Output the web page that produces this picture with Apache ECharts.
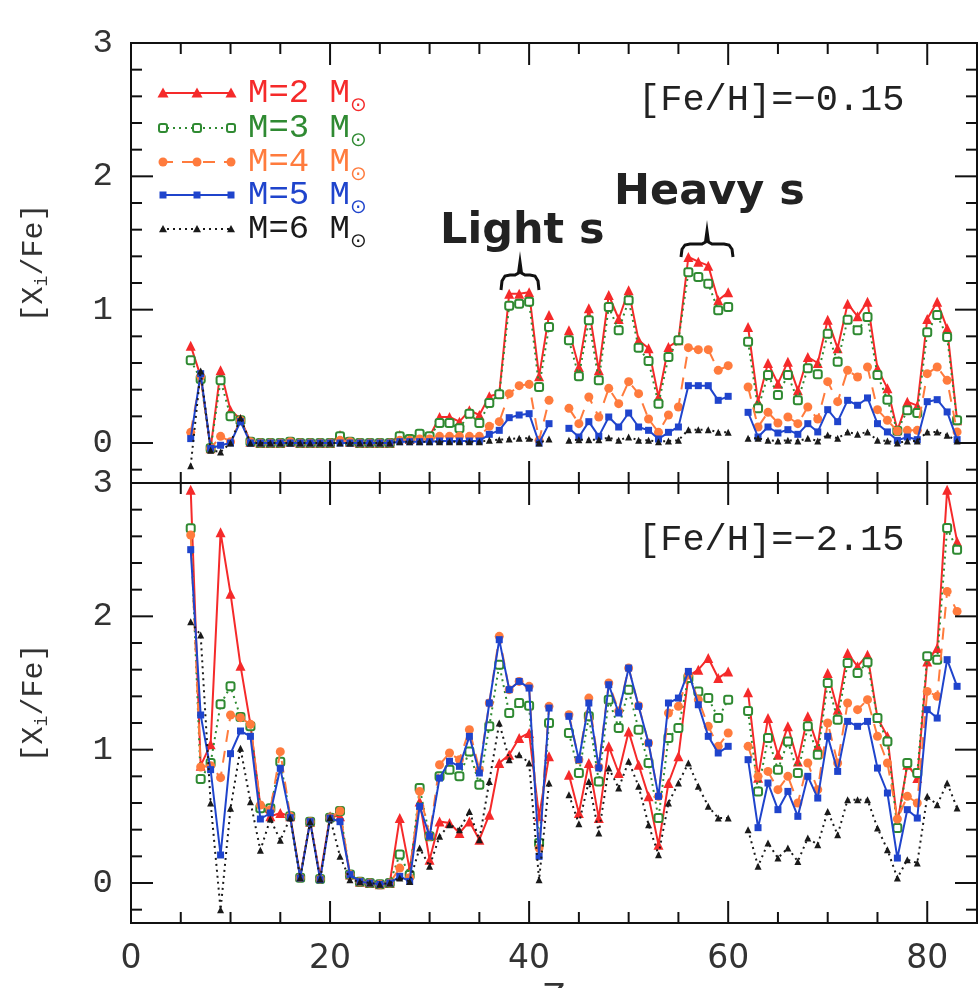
<!DOCTYPE html>
<html>
<head>
<meta charset="utf-8">
<script src="https://cdn.jsdelivr.net/npm/echarts@6/dist/echarts.min.js"></script>
<style>
  html, body { margin: 0; padding: 0; background: #fff; }
  #chart { width: 979px; height: 988px; }
</style>
</head>
<body>
<div id="chart"></div>
<script>
// atomic number Z (43 and 61 have no value)
const Z = [6, 7, 8, 9, 10, 11, 12, 13, 14, 15, 16, 17, 18, 19, 20, 21, 22, 23, 24, 25,
  26, 27, 28, 29, 30, 31, 32, 33, 34, 35, 36, 37, 38, 39, 40, 41, 42, 43, 44, 45,
  46, 47, 48, 49, 50, 51, 52, 53, 54, 55, 56, 57, 58, 59, 60, 61, 62, 63, 64, 65,
  66, 67, 68, 69, 70, 71, 72, 73, 74, 75, 76, 77, 78, 79, 80, 81, 82, 83];

// [Fe/H] = -0.15
const topM2 = [0.73, 0.50, -0.04, 0.545, 0.245, 0.18, 0.01, 0.0, 0.0, 0.0,
  0.01, 0.0, 0.0, 0.0, 0.0, 0.06, 0.01, 0.0, 0.0, 0.0,
  0.0, 0.06, 0.03, 0.07, 0.05, 0.195, 0.195, 0.16, 0.245, 0.21,
  0.35, 0.37, 1.12, 1.12, 1.13, 0.50, 0.96, null, 0.845, 0.57,
  1.01, 0.545, 1.11, 0.93, 1.145, 0.77, 0.71, 0.345, 0.72, 0.77,
  1.395, 1.36, 1.33, 1.07, 1.13, null, 0.87, 0.31, 0.60, 0.445,
  0.61, 0.395, 0.645, 0.60, 0.925, 0.71, 1.045, 0.95, 1.06, 0.56,
  0.41, 0.095, 0.31, 0.28, 0.93, 1.06, 0.86, 0.17];
const topM3 = [0.62, 0.48, -0.04, 0.47, 0.20, 0.17, 0.01, 0.0, 0.0, 0.0,
  0.01, 0.0, 0.0, 0.0, 0.0, 0.05, 0.01, 0.0, 0.0, 0.0,
  0.0, 0.05, 0.03, 0.07, 0.05, 0.15, 0.15, 0.11, 0.22, 0.15,
  0.30, 0.365, 1.03, 1.045, 1.06, 0.42, 0.87, null, 0.77, 0.50,
  0.92, 0.47, 1.02, 0.845, 1.07, 0.715, 0.615, 0.295, 0.645, 0.77,
  1.28, 1.245, 1.195, 0.995, 1.02, null, 0.76, 0.26, 0.51, 0.36,
  0.51, 0.32, 0.56, 0.515, 0.82, 0.61, 0.925, 0.845, 0.945, 0.51,
  0.325, 0.092, 0.245, 0.225, 0.83, 0.96, 0.795, 0.17];
const topM4 = [0.08, 0.50, -0.04, 0.05, 0.01, 0.17, 0.01, 0.0, 0.0, 0.0,
  0.01, 0.0, 0.0, 0.0, 0.0, 0.02, 0.01, 0.0, 0.0, 0.0,
  0.0, 0.02, 0.02, 0.03, 0.03, 0.05, 0.05, 0.05, 0.05, 0.05,
  0.125, 0.16, 0.37, 0.43, 0.44, 0.02, 0.32, null, 0.26, 0.145,
  0.345, 0.195, 0.41, 0.295, 0.46, 0.37, 0.18, 0.08, 0.21, 0.27,
  0.715, 0.70, 0.70, 0.545, 0.58, null, 0.42, 0.12, 0.23, 0.15,
  0.195, 0.145, 0.27, 0.18, 0.46, 0.31, 0.545, 0.495, 0.57, 0.25,
  0.17, 0.09, 0.095, 0.095, 0.52, 0.57, 0.47, 0.083];
const topM5 = [0.033, 0.52, -0.04, -0.017, 0.0, 0.16, 0.0, 0.0, 0.0, 0.0,
  0.0, 0.0, 0.0, 0.0, 0.0, 0.0, 0.0, 0.0, 0.0, 0.0,
  0.0, 0.01, 0.01, 0.01, 0.01, 0.015, 0.015, 0.015, 0.015, 0.015,
  0.065, 0.095, 0.19, 0.21, 0.22, 0.0, 0.145, null, 0.11, 0.045,
  0.16, 0.05, 0.195, 0.12, 0.225, 0.12, 0.095, 0.03, 0.08, 0.12,
  0.43, 0.43, 0.43, 0.32, 0.35, null, 0.23, 0.045, 0.12, 0.075,
  0.10, 0.065, 0.145, 0.083, 0.25, 0.16, 0.32, 0.283, 0.338, 0.145,
  0.083, 0.02, 0.045, 0.025, 0.31, 0.325, 0.233, 0.025];
const topM6 = [-0.17, 0.54, -0.055, -0.067, 0.0, 0.19, 0.0, 0.0, 0.0, 0.0,
  0.0, 0.0, 0.0, 0.0, 0.0, 0.0, 0.0, 0.0, 0.0, 0.0,
  0.0, 0.01, 0.01, 0.01, 0.01, 0.01, 0.01, 0.01, 0.01, 0.01,
  0.02, 0.025, 0.03, 0.035, 0.035, 0.0, 0.03, null, 0.02, 0.025,
  0.025, 0.025, 0.04, 0.02, 0.045, 0.02, 0.02, 0.01, 0.015, 0.02,
  0.10, 0.10, 0.10, 0.08, 0.08, null, 0.035, 0.035, 0.02, 0.015,
  0.02, 0.015, 0.035, 0.015, 0.06, 0.035, 0.083, 0.065, 0.083, 0.02,
  0.015, 0.0, 0.015, 0.015, 0.083, 0.083, 0.058, 0.015];

// [Fe/H] = -2.15
const botM2 = [2.95, 0.88, 1.04, 2.63, 2.17, 1.63, 1.19, 0.575, 0.50, 0.525,
  0.50, 0.05, 0.46, 0.05, 0.50, 0.50, 0.063, 0.01, 0.0, -0.01,
  0.0, 0.487, 0.10, 0.612, 0.175, 0.462, 0.45, 0.375, 0.462, 0.325,
  0.512, 0.90, 0.962, 1.087, 1.125, 0.50, 0.95, null, 0.812, 0.525,
  0.90, 0.487, 1.025, 0.825, 1.137, 0.887, 0.65, 0.287, 0.75, 0.95,
  1.55, 1.60, 1.687, 1.537, 1.587, null, 1.43, 0.79, 1.237, 0.962,
  1.175, 0.912, 1.25, 1.025, 1.575, 1.30, 1.725, 1.625, 1.712, 1.237,
  1.10, 0.45, 0.887, 0.787, 1.662, 1.762, 2.95, 2.562];
const botM3 = [2.66, 0.78, 0.90, 1.34, 1.475, 1.245, 1.175, 0.56, 0.56, 0.91,
  0.50, 0.04, 0.46, 0.03, 0.49, 0.54, 0.063, 0.01, 0.0, -0.01,
  0.0, 0.213, 0.06, 0.712, 0.35, 0.80, 0.85, 0.80, 0.987, 0.737,
  1.175, 1.637, 1.275, 1.35, 1.33, 0.30, 1.20, null, 1.125, 0.825,
  1.25, 0.762, 1.375, 1.162, 1.45, 1.15, 0.90, 0.487, 1.087, 1.162,
  1.537, 1.437, 1.387, 1.237, 1.375, null, 1.29, 0.687, 1.087, 0.85,
  1.062, 0.825, 1.175, 0.962, 1.50, 1.225, 1.65, 1.575, 1.655, 1.237,
  1.062, 0.412, 0.90, 0.825, 1.70, 1.675, 2.662, 2.50];
const botM4 = [2.61, 0.87, 0.88, 0.79, 1.26, 1.24, 1.19, 0.585, 0.55, 0.985,
  0.50, 0.04, 0.46, 0.03, 0.49, 0.54, 0.063, 0.01, 0.0, -0.01,
  0.0, 0.112, 0.04, 0.687, 0.35, 0.887, 0.975, 0.925, 1.15, 0.85,
  1.35, 1.85, 1.45, 1.512, 1.475, 0.262, 1.325, null, 1.262, 0.925,
  1.387, 0.87, 1.50, 1.29, 1.612, 1.33, 1.05, 0.65, 1.275, 1.325,
  1.56, 1.375, 1.175, 1.025, 1.125, null, 1.025, 0.80, 0.837, 0.70,
  0.80, 0.60, 0.90, 0.70, 1.20, 0.90, 1.35, 1.30, 1.375, 1.10,
  0.90, 0.48, 0.65, 0.60, 1.437, 1.40, 2.187, 2.037];
const botM5 = [2.50, 1.26, 0.85, 0.21, 0.97, 1.14, 1.10, 0.48, 0.525, 0.86,
  0.49, 0.037, 0.46, 0.025, 0.487, 0.46, 0.063, 0.01, 0.0, -0.01,
  0.0, 0.05, 0.012, 0.575, 0.35, 0.787, 0.913, 0.875, 1.10, 0.825,
  1.35, 1.825, 1.45, 1.512, 1.462, 0.20, 1.312, null, 1.25, 0.925,
  1.35, 0.863, 1.487, 1.275, 1.612, 1.325, 1.05, 0.65, 1.35, 1.387,
  1.587, 1.337, 1.10, 0.975, 1.025, null, 0.925, 0.415, 0.75, 0.55,
  0.687, 0.50, 0.80, 0.637, 1.10, 0.837, 1.212, 1.175, 1.212, 0.862,
  0.675, 0.187, 0.55, 0.487, 1.30, 1.237, 1.675, 1.475];
const botM6 = [1.96, 1.86, 0.60, -0.20, 0.56, 1.01, 0.61, 0.245, 0.48, 0.32,
  0.49, 0.04, 0.46, 0.03, 0.49, 0.20, 0.025, 0.01, 0.0, -0.01,
  0.0, 0.037, 0.012, 0.262, 0.125, 0.35, 0.437, 0.40, 0.537, 0.325,
  0.762, 1.20, 0.925, 0.962, 0.90, 0.025, 0.75, null, 0.662, 0.445,
  0.762, 0.375, 0.863, 0.712, 0.913, 0.725, 0.437, 0.212, 0.60, 0.75,
  0.90, 0.725, 0.575, 0.487, 0.487, null, 0.40, 0.125, 0.30, 0.187,
  0.262, 0.162, 0.337, 0.287, 0.537, 0.362, 0.625, 0.625, 0.625, 0.412,
  0.25, 0.037, 0.175, 0.15, 0.65, 0.587, 0.75, 0.562];

const masses = [2, 3, 4, 5, 6];
const xLabels = [0, 20, 40, 60, 80];
const yLabels = [0, 1, 2, 3];
// tick marks on the frame (multiples of 20 / whole numbers are the long ones)
const xTickValues = [5, 10, 15, 20, 25, 30, 35, 40, 45, 50, 55, 60, 65, 70, 75, 80];
const yTickValues = [-0.2, 0, 0.2, 0.4, 0.6, 0.8, 1, 1.2, 1.4, 1.6, 1.8, 2, 2.2, 2.4, 2.6, 2.8];

const MONO = '"Liberation Mono", "DejaVu Sans Mono", monospace';
const INK = '#222';
const FRAME = '#111';

// one look per mass
const looks = [
  {color: '#f52a2a', symbol: 'triangle', size: 10, line: 'solid', dash: null},
  {color: '#2f8a32', symbol: 'emptyRoundRect', size: 8, line: [2, 4], dash: [2, 4]},
  {color: '#ff7b3d', symbol: 'circle', size: 9, line: [12, 9], dash: [12, 9]},
  {color: '#1f44cc', symbol: 'rect', size: 7, line: 'solid', dash: null},
  {color: '#1a1a1a', symbol: 'triangle', size: 7, line: [2, 4], dash: [2, 4]}
];

let chart = echarts.init(document.getElementById('chart'));

function xAxisFor (grid, withLabels) {
  let axis = {
    type: 'value',
    gridIndex: grid,
    min: 0,
    max: 85,
    interval: 20,
    splitLine: {show: false},
    axisLine: {show: false, onZero: false},
    axisTick: {show: false},
    axisLabel: {show: false}
  };
  if (withLabels) {
    axis.axisLabel = {
      show: true,
      customValues: xLabels,
      margin: 20,
      fontFamily: 'DejaVu Sans',
      fontSize: 33,
      color: '#333'
    };
    axis.name = 'Z';
    axis.nameLocation = 'middle';
    axis.nameGap = 60;
    axis.nameTextStyle = {fontFamily: 'DejaVu Sans', fontSize: 33, color: '#333'};
  }
  return axis;
}

function yAxisFor (grid) {
  return {
    type: 'value',
    gridIndex: grid,
    min: -0.3,
    max: 3,
    splitLine: {show: false},
    axisLine: {show: false, onZero: false},
    axisTick: {show: false},
    axisLabel: {
      show: true,
      customValues: yLabels,
      margin: 18,
      fontFamily: MONO,
      fontSize: 34,
      color: '#333'
    },
    name: '{a|[X}{s|i}{a|/Fe]}',
    nameLocation: 'middle',
    nameRotate: 90,
    nameGap: 80,
    nameTextStyle: {
      color: '#333',
      rich: {
        a: {fontFamily: MONO, fontSize: 30, lineHeight: 34, color: '#333'},
        s: {fontFamily: MONO, fontSize: 18, lineHeight: 16, verticalAlign: 'bottom', color: '#333'}
      }
    }
  };
}

function makeSeries (vals, i, grid) {
  let look = looks[i];
  return {
    type: 'line',
    name: 'M=' + masses[i],
    xAxisIndex: grid,
    yAxisIndex: grid,
    data: Z.map(function (z, k) {
      return [z, vals[k] === null ? '-' : vals[k]];
    }),
    connectNulls: false,
    symbol: look.symbol,
    symbolSize: look.size,
    itemStyle: {color: look.color, borderColor: look.color, borderWidth: look.symbol === 'emptyRoundRect' ? 2 : 0},
    lineStyle: {color: look.color, width: 2, type: look.line},
    z: 2 + i
  };
}

function legendMarker (look, x, y) {
  let fill = {fill: look.color};
  if (look.symbol === 'triangle') {
    let h = look.size / 2 + 0.5;
    return {type: 'polygon', shape: {points: [[x, y - h], [x - h, y + h * 0.8], [x + h, y + h * 0.8]]}, style: fill};
  }
  if (look.symbol === 'emptyRoundRect') {
    return {type: 'rect', shape: {x: x - 4, y: y - 4, width: 8, height: 8, r: 2}, style: {fill: '#fff', stroke: look.color, lineWidth: 2}};
  }
  if (look.symbol === 'circle') {
    return {type: 'circle', shape: {cx: x, cy: y, r: 4.5}, style: fill};
  }
  return {type: 'rect', shape: {x: x - 3.5, y: y - 3.5, width: 7, height: 7}, style: fill};
}

function legendItems () {
  let items = [];
  let rows = [93, 128, 162, 195, 229];
  masses.forEach(function (m, i) {
    let look = looks[i];
    let y = rows[i];
    items.push({
      type: 'line',
      shape: {x1: 161, y1: y, x2: 233, y2: y},
      style: {stroke: look.color, lineWidth: 2, lineDash: look.dash}
    });
    [163, 197, 231].forEach(function (x) {
      items.push(legendMarker(look, x, y));
    });
    items.push({
      type: 'text',
      x: 248,
      y: y,
      style: {
        text: '{m|M=' + m + ' M}{s|⊙}',
        verticalAlign: 'middle',
        rich: {
          m: {fontFamily: MONO, fontSize: 34, lineHeight: 46, fill: look.color, color: look.color},
          s: {fontFamily: 'DejaVu Sans', fontSize: 20, lineHeight: 22, verticalAlign: 'bottom', fill: look.color, color: look.color}
        }
      }
    });
  });
  return items;
}

function label (text, x, y, font) {
  return {type: 'text', x: x, y: y, style: {text: text, font: font, fill: INK, verticalAlign: 'middle'}};
}

// curly bracket over a group of elements
function brace (x1, x2, yEnd, yBar, yTip) {
  let mid = (x1 + x2) / 2;
  let r = yEnd - yBar;
  return {
    type: 'polyline',
    shape: {
      points: [
        [x1, yEnd], [x1 + 1, yBar + r * 0.4], [x1 + 4, yBar + 1], [x1 + 9, yBar],
        [mid - 5, yBar], [mid - 1.5, yBar - 2], [mid, yTip], [mid + 1.5, yBar - 2], [mid + 5, yBar],
        [x2 - 9, yBar], [x2 - 4, yBar + 1], [x2 - 1, yBar + r * 0.4], [x2, yEnd]
      ]
    },
    style: {fill: null, stroke: FRAME, lineWidth: 3}
  };
}

function tick (x1, y1, x2, y2) {
  return {type: 'line', shape: {x1: x1, y1: y1, x2: x2, y2: y2}, style: {stroke: FRAME, lineWidth: 2}, z: 10};
}

// inward ticks on all four sides, placed through each grid's own axes
function tickMarks () {
  let marks = [];
  [0, 1].forEach(function (g) {
    let finder = {xAxisIndex: g, yAxisIndex: g};
    let corner0 = chart.convertToPixel(finder, [0, 3]);
    let corner1 = chart.convertToPixel(finder, [85, -0.3]);
    let left = corner0[0];
    let top = corner0[1];
    let right = corner1[0];
    let bottom = corner1[1];
    xTickValues.forEach(function (v) {
      let x = chart.convertToPixel(finder, [v, 0])[0];
      let len = v % 20 === 0 ? 22 : 11;
      marks.push(tick(x, bottom, x, bottom - len));
      marks.push(tick(x, top, x, top + len));
    });
    yTickValues.forEach(function (v) {
      let y = chart.convertToPixel(finder, [0, v])[1];
      let len = Math.abs(v - Math.round(v)) < 1e-9 ? 22 : 11;
      marks.push(tick(left, y, left + len, y));
      marks.push(tick(right, y, right - len, y));
    });
  });
  return marks;
}

let graphics = legendItems().concat([
  label('[Fe/H]=−0.15', 638, 100, '37px ' + MONO),
  label('[Fe/H]=−2.15', 638, 540, '37px ' + MONO),
  label('Light s', 440, 232, 'bold 43px "DejaVu Sans"'),
  label('Heavy s', 614, 193, 'bold 43px "DejaVu Sans"'),
  brace(501, 539, 290, 275, 262),
  brace(681, 733, 257, 244, 231)
]);

let frame = {show: true, borderColor: FRAME, borderWidth: 2, backgroundColor: 'transparent', containLabel: false, outerBoundsMode: 'none'};

let option = {
  animation: false,
  backgroundColor: '#fff',
  grid: [
    Object.assign({left: 131, top: 43, width: 846, height: 440}, frame),
    Object.assign({left: 131, top: 483, width: 846, height: 440}, frame)
  ],
  xAxis: [xAxisFor(0, false), xAxisFor(1, true)],
  yAxis: [yAxisFor(0), yAxisFor(1)],
  series: [topM2, topM3, topM4, topM5, topM6].map(function (v, i) {
    return makeSeries(v, i, 0);
  }).concat([botM2, botM3, botM4, botM5, botM6].map(function (v, i) {
    return makeSeries(v, i, 1);
  })),
  graphic: graphics
};

chart.setOption(option);
chart.setOption({graphic: graphics.concat(tickMarks())});
</script>
</body>
</html>
